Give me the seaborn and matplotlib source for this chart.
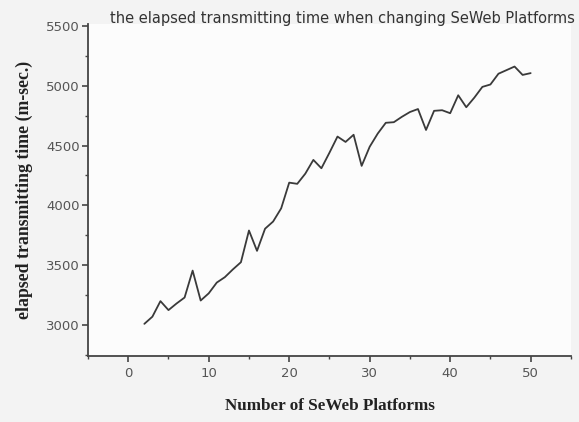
import matplotlib
matplotlib.use("Agg")
import matplotlib.pyplot as plt
from matplotlib.ticker import MultipleLocator
import seaborn as sns
import pandas as pd

# number of SeWeb platforms
platforms = list(range(2, 51))

# elapsed transmitting time (m-sec.)
elapsed_ms = [3010, 3070, 3200, 3125, 3180, 3230, 3455, 3205, 3265,
              3355, 3400, 3465, 3525, 3790, 3620, 3805, 3865, 3975,
              4190, 4180, 4265, 4380, 4310, 4440, 4575, 4530, 4590, 4330,
              4490, 4600, 4690, 4695, 4740, 4780, 4805, 4630, 4790, 4795,
              4770, 4920, 4820, 4900, 4990, 5010, 5100, 5130, 5160, 5090,
              5105]

xticks = [0, 10, 20, 30, 40, 50]
yticks = [3000, 3500, 4000, 4500, 5000, 5500]

title = "the elapsed transmitting time when changing SeWeb Platforms"
xlabel = "Number of SeWeb Platforms"
ylabel = "elapsed transmitting time (m-sec.)"

df = pd.DataFrame({"platforms": platforms, "elapsed": elapsed_ms})

sns.set_style("ticks")
plt.rcParams["font.family"] = ["DejaVu Sans"]

fig = plt.figure(figsize=(5.79, 4.22), dpi=100, facecolor="#f3f3f3")
ax = fig.add_axes([0.152, 0.156, 0.834, 0.787])
ax.set_facecolor("#fcfcfc")

sns.lineplot(data=df, x="platforms", y="elapsed", ax=ax,
             color="#3a3a3a", linewidth=1.3)

ax.set_xlim(-5, 55)
ax.set_ylim(2740, 5515)
ax.set_xticks(xticks)
ax.set_yticks(yticks)
ax.xaxis.set_minor_locator(MultipleLocator(5))
ax.yaxis.set_minor_locator(MultipleLocator(250))
ax.tick_params(axis="both", which="major", direction="out", length=4,
               width=1.2, colors="#444", labelsize=9.5, labelcolor="#555")
ax.tick_params(axis="y", which="major", pad=2)
ax.tick_params(axis="both", which="minor", direction="out", length=2.5,
               width=1.0, colors="#444")

sns.despine(ax=ax)
for side in ["left", "bottom"]:
    ax.spines[side].set_color("#444")
    ax.spines[side].set_linewidth(1.3)

ax.set_xlabel(xlabel, family="Liberation Serif", fontweight="bold",
              fontsize=12.3, color="#222", labelpad=13)
ax.set_ylabel(ylabel, family="Liberation Serif", fontweight="bold",
              fontsize=12.8, color="#222", labelpad=9)

fig.text(0.19, 0.955, title, fontsize=10.5, color="#333", ha="left",
         va="center")

fig.savefig("out.png", dpi=100, facecolor=fig.get_facecolor())
